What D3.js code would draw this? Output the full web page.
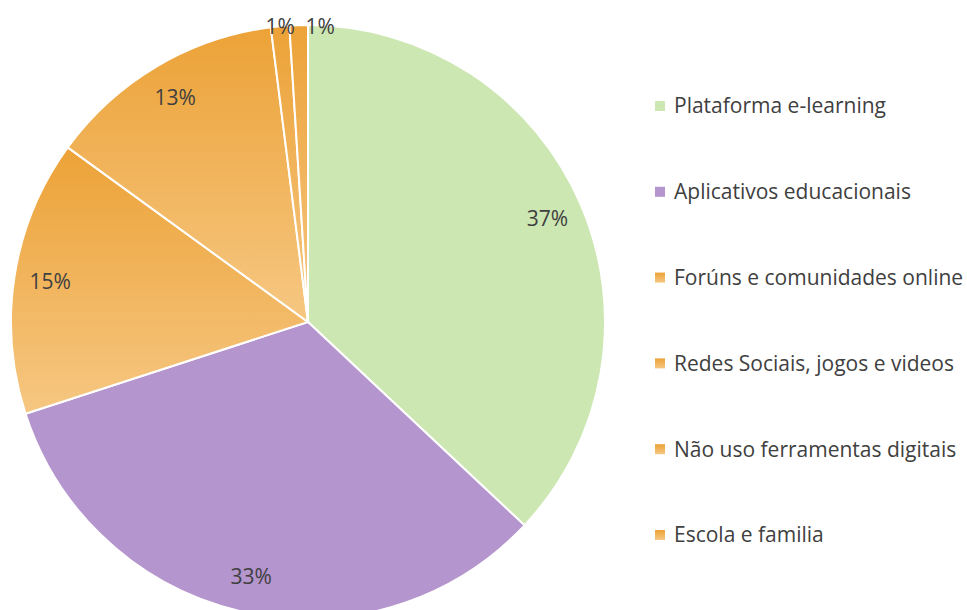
<!DOCTYPE html>
<html>
<head>
<meta charset="utf-8">
<script src="https://cdn.jsdelivr.net/npm/d3@7"></script>
<style>
	body { margin: 0; background: #fff; }
	text { font-family: "Open Sans", "Noto Sans", sans-serif; fill: #404040; }
</style>
</head>
<body>
<div id="chart"></div>
<script>
var categories = ["Plataforma e-learning", "Aplicativos educacionais", "Forúns e comunidades online",
	"Redes Sociais, jogos e videos", "Não uso ferramentas digitais", "Escola e familia"];
var values = [37, 33, 15, 13, 1, 1];
var labels = ["37%", "33%", "15%", "13%", "1%", "1%"];
var fills = ["#cde7b3", "#b495cd", "orange", "orange", "orange", "orange"];

var width = 967, height = 610;
var cx = 308, cy = 322, radius = 297;

var svg = d3.select("#chart").append("svg")
	.attr("width", width)
	.attr("height", height);

// vertical orange gradient, per slice bounding box
var grad = svg.append("defs").append("linearGradient")
	.attr("id", "orangeGrad")
	.attr("x1", 0).attr("y1", 0).attr("x2", 0).attr("y2", 1);
grad.append("stop").attr("offset", "0%").attr("stop-color", "#eca237");
grad.append("stop").attr("offset", "100%").attr("stop-color", "#f6c782");

var pie = d3.pie().sort(null).value(d => d);
var arcs = pie(values);

var arc = d3.arc().innerRadius(0).outerRadius(radius);
var labelArc = d3.arc().innerRadius(261).outerRadius(261);
var edgeArc = d3.arc().innerRadius(radius).outerRadius(radius);

var g = svg.append("g").attr("transform", "translate(" + cx + "," + cy + ")");

g.selectAll("path.slice")
	.data(arcs)
	.enter().append("path")
	.attr("class", "slice")
	.attr("d", arc)
	.attr("fill", (d, i) => fills[i] === "orange" ? "url(#orangeGrad)" : fills[i])
	.attr("stroke", "#fff")
	.attr("stroke-width", 2);

// label positions: big slices inside, small ones on the rim, nudged apart
var pos = arcs.map(d => (d.endAngle - d.startAngle) < 0.2 ? edgeArc.centroid(d) : labelArc.centroid(d));
for (var i = 1; i < pos.length; i++) {
	var small = (arcs[i].endAngle - arcs[i].startAngle) < 0.2 && (arcs[i - 1].endAngle - arcs[i - 1].startAngle) < 0.2;
	if (small && pos[i][0] < pos[i - 1][0] + 40) pos[i] = [pos[i - 1][0] + 40, pos[i - 1][1]];
}

g.selectAll("text.lbl")
	.data(arcs)
	.enter().append("text")
	.attr("class", "lbl")
	.attr("x", (d, i) => pos[i][0])
	.attr("y", (d, i) => pos[i][1])
	.attr("text-anchor", "middle")
	.attr("dy", "0.35em")
	.style("font-size", "21px")
	.text((d, i) => labels[i]);

// legend
var legendY = d3.scalePoint().domain(categories).range([106, 535]);

var legend = svg.append("g").selectAll("g")
	.data(categories)
	.enter().append("g")
	.attr("transform", d => "translate(655," + legendY(d) + ")");

legend.append("rect")
	.attr("x", 0).attr("y", -5)
	.attr("width", 10).attr("height", 10)
	.attr("fill", (d, i) => fills[i] === "orange" ? "url(#orangeGrad)" : fills[i]);

legend.append("text")
	.attr("x", 19)
	.attr("dy", "0.35em")
	.style("font-size", "21px")
	.text(d => d);
</script>
</body>
</html>
